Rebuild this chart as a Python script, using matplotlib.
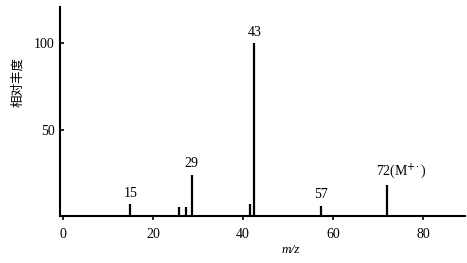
import matplotlib.pyplot as plt

# peak positions (m/z) and relative abundance
mz = [14.9, 25.8, 27.3, 28.6, 41.5, 42.5, 57.3, 72.0]
abundance = [7, 5, 5, 24, 7, 100, 6, 18]

# labelled peaks
label_mz = [14.9, 28.6, 42.5, 57.3, 72.0]
label_y = [7, 24, 100, 6, 18]
label_text = ['15', '29', '43', '57', '72(M$^{+\\!\\cdot}$)']

xticks = [0, 20, 40, 60, 80]
yticks = [50, 100]

plt.rcParams['font.family'] = ['Liberation Serif', 'DejaVu Serif']

fig = plt.figure(figsize=(4.67, 2.63), dpi=100)
ax = fig.add_axes([60 / 467, 47 / 263, 405 / 467, 209 / 263])

ax.vlines(mz, 0, abundance, color='black', linewidth=1.6)

for x, y, t in zip(label_mz, label_y, label_text):
    if t.startswith('72'):
        ax.annotate(t, (x, y), xytext=(-8, 3), textcoords='offset points',
                    ha='left', va='bottom', fontsize=10)
    else:
        ax.annotate(t, (x, y), xytext=(0, 3), textcoords='offset points',
                    ha='center', va='bottom', fontsize=10)

ax.set_xlim(-0.7, 89.3)
ax.set_ylim(0, 121)
ax.set_xticks(xticks)
ax.set_yticks(yticks)
ax.tick_params(axis='x', direction='out', length=3, width=1.2, labelsize=10, pad=6)
ax.tick_params(axis='y', direction='in', length=3, width=1.2, labelsize=10, pad=4)

for side in ['top', 'right']:
    ax.spines[side].set_visible(False)
for side in ['left', 'bottom']:
    ax.spines[side].set_linewidth(1.5)

ax.set_xlabel('m/z', fontstyle='italic', fontsize=9.5)
ax.xaxis.set_label_coords(0.57, -0.135)
fig.text(18 / 467, 1 - 82 / 263, '相对丰度', rotation=90, ha='center', va='center',
         fontsize=9, family=['Noto Sans CJK SC', 'DejaVu Sans'])

fig.savefig('out.png', dpi=100)
